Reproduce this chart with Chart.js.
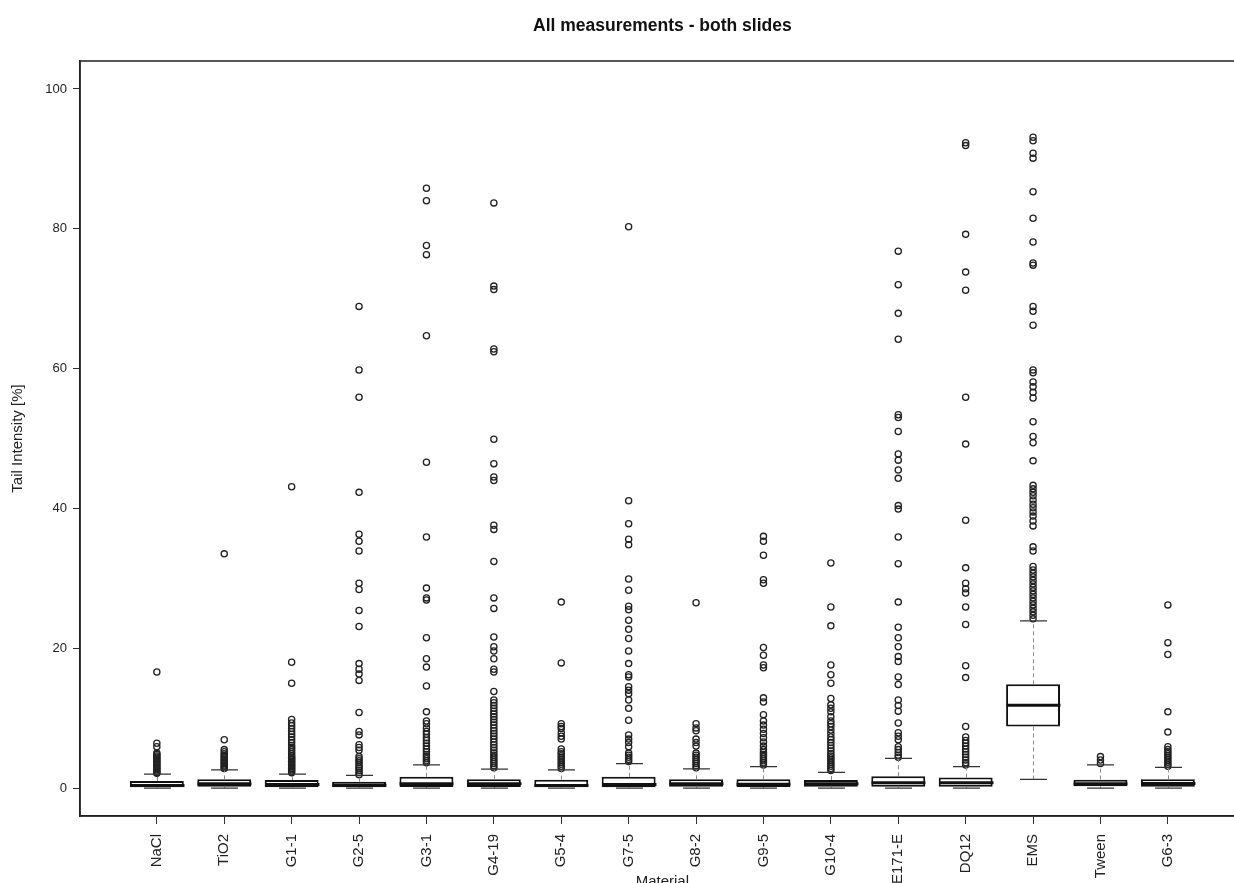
<!DOCTYPE html>
<html>
<head>
<meta charset="utf-8">
<title>All measurements - both slides</title>
<script src="https://cdn.jsdelivr.net/npm/chart.js@4.4.1/dist/chart.umd.min.js"></script>
<style>
  html, body { margin: 0; padding: 0; background: #fff; overflow: hidden; }
  #wrap { width: 1250px; height: 883px; }
</style>
</head>
<body>
<div id="wrap"><canvas id="boxChart" width="1250" height="883"></canvas></div>
<script>
// categories and box statistics (Tail Intensity, %)
const materials = ["NaCl", "TiO2", "G1-1", "G2-5", "G3-1", "G4-19", "G5-4", "G7-5", "G8-2", "G9-5", "G10-4", "E171-E", "DQ12", "EMS", "Tween", "G6-3"];
const lowerWhisker = [0, 0, 0, 0, 0, 0, 0, 0, 0, 0, 0, 0, 0, 1.24, 0, 0];
const q1 =           [0.1, 0.2, 0.1, 0.1, 0.15, 0.15, 0.1, 0.1, 0.2, 0.15, 0.2, 0.2, 0.2, 8.8, 0.25, 0.2];
const medians =      [0.35, 0.6, 0.5, 0.4, 0.6, 0.6, 0.35, 0.5, 0.6, 0.55, 0.6, 0.75, 0.75, 11.85, 0.6, 0.65];
const q3 =           [1.0, 1.25, 1.15, 0.9, 1.6, 1.25, 1.2, 1.6, 1.25, 1.25, 1.15, 1.7, 1.5, 14.85, 1.2, 1.25];
const upperWhisker = [2.0, 2.6, 2.0, 1.8, 3.3, 2.7, 2.6, 3.5, 2.75, 3.05, 2.25, 4.25, 3.05, 23.9, 3.3, 2.95];

// outliers, one list per material
const outNaCl = [16.6, 6.4, 5.9, 5.0, 4.8, 4.6, 4.4, 4.2, 4.0, 3.8, 3.6, 3.4, 3.2, 3.0, 2.8, 2.6, 2.4, 2.2, 2.1];
const outTiO2 = [33.5, 6.9, 5.5, 5.2, 4.9, 4.7, 4.5, 4.3, 4.1, 3.9, 3.7, 3.5, 3.3, 3.1, 2.9, 2.8];
const outG1_1 = [43.1, 18.0, 15.0, 9.8, 9.3, 8.9, 8.5, 8.1, 7.7, 7.3, 6.9, 6.5, 6.1, 5.8, 5.5, 5.2, 4.9, 4.6, 4.4, 4.2, 4.0, 3.8, 3.6, 3.4, 3.2, 3.0, 2.8, 2.6, 2.4, 2.2];
const outG2_5 = [68.9, 59.8, 55.9, 42.3, 36.3, 35.3, 33.9, 29.3, 28.4, 25.4, 23.1, 17.8, 17.0, 16.3, 15.4, 10.8, 8.1, 7.6, 6.2, 5.8, 5.4, 4.5, 4.2, 3.9, 3.6, 3.3, 3.0, 2.8, 2.5, 2.2, 1.9];
const outG3_1 = [85.8, 84.0, 77.6, 76.3, 64.7, 46.6, 35.9, 28.6, 27.2, 26.9, 21.5, 18.5, 17.3, 14.6, 10.9, 9.6, 9.2, 8.6, 8.1, 7.7, 7.2, 6.8, 6.4, 6.0, 5.6, 5.2, 4.8, 4.5, 4.2, 3.9, 3.6];
const outG4_19 = [83.7, 71.8, 71.3, 62.8, 62.4, 49.9, 46.4, 44.5, 44.0, 37.6, 37.0, 32.4, 27.2, 25.7, 21.6, 20.2, 19.6, 18.5, 17.0, 16.6, 13.8, 12.6, 12.2, 11.8, 11.4, 11.0, 10.6, 10.2, 9.8, 9.4, 9.0, 8.6, 8.2, 7.8, 7.4, 7.0, 6.6, 6.2, 5.8, 5.4, 5.0, 4.7, 4.4, 4.1, 3.8, 3.5, 3.2, 2.9];
const outG5_4 = [26.6, 17.9, 9.2, 8.8, 8.5, 7.9, 7.4, 7.0, 5.6, 5.2, 4.9, 4.6, 4.3, 4.0, 3.7, 3.4, 3.1, 2.8];
const outG7_5 = [80.3, 41.1, 37.8, 35.6, 34.8, 29.9, 28.3, 26.0, 25.5, 24.0, 22.7, 21.4, 19.6, 17.8, 16.2, 15.9, 14.5, 14.0, 13.5, 12.6, 11.4, 9.7, 7.6, 7.0, 6.5, 5.9, 5.0, 4.7, 4.4, 4.1, 3.8];
const outG8_2 = [26.5, 9.2, 8.6, 8.2, 7.0, 6.5, 6.0, 5.0, 4.7, 4.4, 4.1, 3.8, 3.5, 3.2, 2.9];
const outG9_5 = [36.0, 35.3, 33.3, 29.8, 29.3, 20.1, 19.0, 17.6, 17.2, 12.9, 12.3, 10.5, 9.6, 9.0, 8.4, 7.8, 7.2, 6.6, 6.0, 5.5, 5.1, 4.8, 4.5, 4.2, 3.9, 3.6, 3.3];
const outG10_4 = [32.2, 25.9, 23.2, 17.6, 16.2, 15.0, 12.8, 11.9, 11.4, 10.9, 10.2, 9.6, 9.2, 8.8, 8.3, 7.8, 7.3, 6.9, 6.5, 6.1, 5.7, 5.3, 4.9, 4.6, 4.3, 4.0, 3.7, 3.4, 3.1, 2.8, 2.5];
const outE171_E = [76.8, 72.0, 67.9, 64.2, 53.4, 53.0, 51.0, 47.8, 46.9, 45.5, 44.3, 40.4, 39.9, 35.9, 32.1, 26.6, 23.0, 21.5, 20.2, 18.8, 18.1, 15.9, 14.8, 12.6, 11.8, 11.0, 9.3, 7.9, 7.4, 6.9, 5.9, 5.5, 5.1, 4.7, 4.4];
const outDQ12 = [92.3, 91.9, 79.2, 73.8, 71.2, 55.9, 49.2, 38.3, 31.5, 29.3, 28.5, 27.9, 25.9, 23.4, 17.5, 15.8, 8.8, 7.3, 6.8, 6.4, 6.0, 5.6, 5.2, 4.8, 4.4, 4.0, 3.6, 3.3];
const outEMS = [93.1, 92.6, 90.8, 90.1, 85.3, 81.5, 78.1, 75.1, 74.8, 68.9, 68.2, 66.2, 59.8, 59.4, 58.1, 57.4, 56.6, 55.8, 52.4, 50.3, 49.4, 46.8, 43.3, 42.8, 42.3, 41.8, 41.2, 40.6, 40.1, 39.5, 38.9, 38.2, 37.5, 34.5, 33.9, 31.7, 31.2, 30.7, 30.2, 29.7, 29.2, 28.7, 28.2, 27.7, 27.2, 26.7, 26.2, 25.7, 25.2, 24.7, 24.2];
const outTween = [4.5, 4.0, 3.5];
const outG6_3 = [26.2, 20.8, 19.1, 10.9, 8.0, 5.9, 5.5, 5.2, 4.9, 4.6, 4.3, 4.0, 3.7, 3.4, 3.1];

const outlierLists = [outNaCl, outTiO2, outG1_1, outG2_5, outG3_1, outG4_19, outG5_4, outG7_5, outG8_2, outG9_5, outG10_4, outE171_E, outDQ12, outEMS, outTween, outG6_3];
const yTicks = [0, 20, 40, 60, 80, 100];

const FONT = "'Liberation Sans', Arial, sans-serif";

const outlierPoints = [];
outlierLists.forEach(function(list, i) {
    list.forEach(function(v) { outlierPoints.push({ x: i + 1, y: v }); });
});

// whiskers, staples, medians, frame and titles
const boxParts = {
    id: 'boxParts',
    afterDatasetsDraw: function(chart) {
        const xs = chart.scales.x, ys = chart.scales.y, ctx = chart.ctx;
        const halfBox = xs.getPixelForValue(1.4) - xs.getPixelForValue(1);
        const halfStaple = xs.getPixelForValue(1.2) - xs.getPixelForValue(1);
        ctx.save();
        materials.forEach(function(m, i) {
            const cx = Math.round(xs.getPixelForValue(i + 1)) + 0.5;
            // dashed whiskers
            ctx.strokeStyle = '#8a8a8a';
            ctx.lineWidth = 1;
            ctx.setLineDash([4, 3]);
            ctx.beginPath();
            ctx.moveTo(cx, ys.getPixelForValue(q3[i]));
            ctx.lineTo(cx, ys.getPixelForValue(upperWhisker[i]));
            ctx.moveTo(cx, ys.getPixelForValue(q1[i]));
            ctx.lineTo(cx, ys.getPixelForValue(lowerWhisker[i]));
            ctx.stroke();
            ctx.setLineDash([]);
            // staples
            ctx.strokeStyle = '#333';
            ctx.lineWidth = 1.2;
            ctx.beginPath();
            [upperWhisker[i], lowerWhisker[i]].forEach(function(v) {
                const py = ys.getPixelForValue(v);
                ctx.moveTo(cx - halfStaple, py);
                ctx.lineTo(cx + halfStaple, py);
            });
            ctx.stroke();
            // median
            ctx.strokeStyle = '#111';
            ctx.lineWidth = 3;
            ctx.beginPath();
            const my = ys.getPixelForValue(medians[i]);
            ctx.moveTo(cx - halfBox, my);
            ctx.lineTo(cx + halfBox, my);
            ctx.stroke();
        });
        ctx.restore();
    },
    afterDraw: function(chart) {
        const ctx = chart.ctx, a = chart.chartArea, xs = chart.scales.x;
        ctx.save();
        ctx.strokeStyle = '#222';
        ctx.lineWidth = 1.5;
        ctx.strokeRect(a.left, a.top, a.right - a.left, a.bottom - a.top);
        const midX = xs.getPixelForValue((xs.min + xs.max) / 2);
        ctx.fillStyle = '#111';
        ctx.textAlign = 'center';
        ctx.textBaseline = 'middle';
        ctx.font = 'bold 17.5px ' + FONT;
        ctx.fillText('All measurements - both slides', midX, 26);
        ctx.font = '15px ' + FONT;
        ctx.fillStyle = '#222';
        ctx.textBaseline = 'top';
        ctx.fillText('Material', midX, 874);
        ctx.translate(18, (a.top + a.bottom) / 2);
        ctx.rotate(-Math.PI / 2);
        ctx.textBaseline = 'middle';
        ctx.fillText('Tail Intensity [%]', 0, 0);
        ctx.restore();
    }
};

const ctx = document.getElementById('boxChart').getContext('2d');
const boxChart = new Chart(ctx, {
    type: 'scatter',
    data: {
        datasets: [{
            type: 'bar',
            label: 'IQR',
            data: materials.map(function(m, i) { return { x: i + 1, y: [q1[i], q3[i]] }; }),
            backgroundColor: '#ffffff',
            borderColor: '#111',
            borderWidth: 2,
            borderSkipped: false,
            barPercentage: 0.8,
            categoryPercentage: 1.0,
            order: 2
        }, {
            label: 'Outliers',
            data: outlierPoints,
            pointStyle: 'circle',
            pointRadius: 3.1,
            pointBorderWidth: 1.3,
            pointBorderColor: '#222',
            pointBackgroundColor: 'rgba(0,0,0,0)',
            order: 1
        }]
    },
    options: {
        responsive: false,
        animation: false,
        devicePixelRatio: 1,
        layout: { padding: { top: 61, right: 4, left: 0, bottom: 0 } },
        plugins: {
            legend: { display: false },
            tooltip: { enabled: false },
            title: { display: false }
        },
        scales: {
            x: {
                type: 'linear',
                min: -0.14,
                max: 17.14,
                offset: false,
                afterBuildTicks: function(scale) {
                    scale.ticks = materials.map(function(m, i) { return { value: i + 1 }; });
                },
                afterFit: function(scale) { scale.height = 67; },
                ticks: {
                    autoSkip: false,
                    maxRotation: 90,
                    minRotation: 90,
                    padding: 10,
                    color: '#222',
                    font: { family: FONT, size: 15 },
                    callback: function(value) { return materials[value - 1]; }
                },
                grid: { drawOnChartArea: false, drawTicks: true, tickLength: 8, color: '#333', offset: false },
                border: { display: true, color: '#222', width: 1.5 }
            },
            y: {
                type: 'linear',
                min: -4,
                max: 104,
                afterBuildTicks: function(scale) {
                    scale.ticks = yTicks.map(function(v) { return { value: v }; });
                },
                afterFit: function(scale) { scale.width = 80; },
                ticks: {
                    padding: 6,
                    color: '#222',
                    font: { family: FONT, size: 13 }
                },
                grid: { drawOnChartArea: false, drawTicks: true, tickLength: 7, color: '#333' },
                border: { display: true, color: '#222', width: 1.5 }
            }
        }
    },
    plugins: [boxParts]
});
</script>
</body>
</html>
